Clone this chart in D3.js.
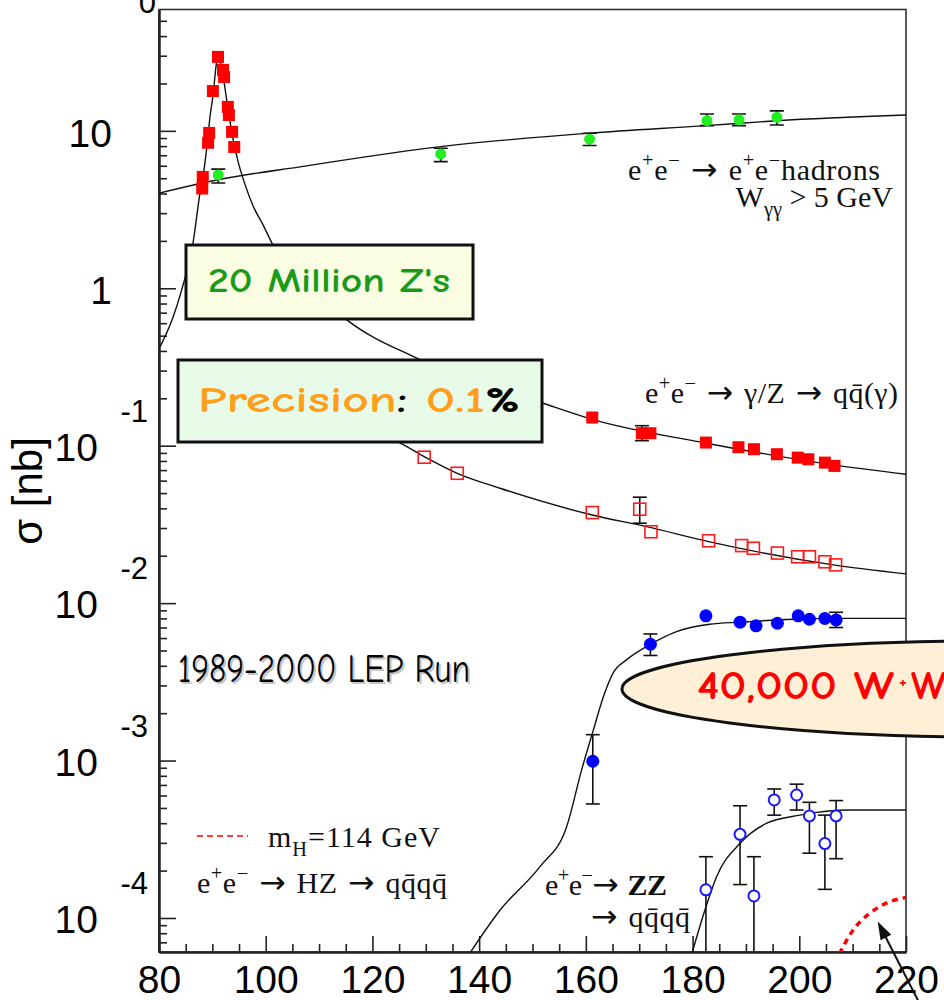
<!DOCTYPE html>
<html>
<head>
<meta charset="utf-8">
<script src="https://cdn.jsdelivr.net/npm/d3@7"></script>
<style>
body { margin: 0; background: #fff; }
svg { display: block; }
</style>
</head>
<body>
<svg id="chart" width="944" height="1000"></svg>
<script>
// cross sections in nb, energies in GeV

// e+e- -> e+e- hadrons (green)
var hadE = [91.1, 132.8, 160.7, 182.7, 188.7, 195.8];
var hadS = [5.25, 7.14, 8.85, 11.6, 11.75, 12.2];
var hadHi = [5.71, 7.76, 9.66, 12.8, 12.8, 13.4];
var hadLo = [4.66, 6.38, 8.07, 10.8, 10.8, 10.9];
var hadCurve = [[80, 4.02], [91.1, 4.89], [106.7, 5.93], [132.8, 7.94], [160.7, 9.67], [182.5, 10.8], [195.8, 11.6], [220, 12.6]];

// Z peak scan (red filled)
var zPeakE = [88.1, 88.2, 89.2, 89.4, 90.1, 91.06, 92.0, 92.2, 92.9, 93.1, 93.7, 94.1];
var zPeakS = [4.3, 5.1, 8.4, 9.7, 17.9, 29.5, 24.4, 22.0, 14.2, 12.6, 9.85, 7.9];

// e+e- -> qq(gamma), high energy, inclusive (filled) and high s' (open)
var qqE = [161.2, 170.5, 172.1, 182.5, 188.6, 191.5, 195.8, 199.7, 201.7, 204.8, 206.6];
var qqS = [0.151, 0.120, 0.120, 0.1047, 0.0978, 0.095, 0.0883, 0.084, 0.082, 0.0781, 0.0744];
var qqHi = [0.151, 0.134, 0.120, 0.1047, 0.0978, 0.095, 0.0883, 0.084, 0.082, 0.0781, 0.0744];
var qqLo = [0.151, 0.1076, 0.120, 0.1047, 0.0978, 0.095, 0.0883, 0.084, 0.082, 0.0781, 0.0744];
var zCurve = [[80, 0.412], [82.68, 0.661], [84.25, 0.977], [86.32, 1.89], [87.68, 4.02], [88.43, 5.65], [89.05, 8.36],
  [89.56, 12.3], [90.18, 17.4], [90.68, 25.6], [91.11, 30.4], [91.81, 24.5], [92.93, 13.8], [93.87, 8.9], [94.86, 6.3],
  [96.12, 4.57], [97.67, 3.31], [99.55, 2.51], [101.12, 1.95], [115.2, 0.63], [128.3, 0.36], [152, 0.186], [161.2, 0.147],
  [182.6, 0.1037], [206.4, 0.0755], [220, 0.0658]];

var qqOpenE = [129.7, 135.9, 161.2, 170.1, 172.2, 183.0, 189.2, 191.4, 195.9, 199.7, 201.9, 204.8, 206.8];
var qqOpenS = [0.0845, 0.0668, 0.0376, 0.0395, 0.0284, 0.0249, 0.0232, 0.0223, 0.0208, 0.0197, 0.0197, 0.0183, 0.0175];
var qqOpenHi = [0.0845, 0.0668, 0.0376, 0.0471, 0.0284, 0.0249, 0.0232, 0.0223, 0.0208, 0.0197, 0.0197, 0.0183, 0.0175];
var qqOpenLo = [0.0845, 0.0668, 0.0376, 0.0322, 0.0284, 0.0249, 0.0232, 0.0223, 0.0208, 0.0197, 0.0197, 0.0183, 0.0175];
var qqOpenCurve = [[121, 0.123], [123.9, 0.109], [125.2, 0.104], [129.7, 0.0853], [135.9, 0.0668], [143.9, 0.0537],
  [161.2, 0.0363], [171.4, 0.0306], [183, 0.0246], [206.4, 0.0175], [220, 0.01535]];

// W+W- (blue filled)
var wwE = [161.3, 172.1, 182.5, 188.9, 191.9, 195.9, 199.8, 201.9, 204.8, 206.9];
var wwS = [0.00099, 0.00548, 0.0083, 0.00757, 0.00717, 0.00745, 0.0083, 0.0079, 0.0080, 0.00782];
var wwHi = [0.00146, 0.00637, 0.0083, 0.00757, 0.00717, 0.00745, 0.0083, 0.0079, 0.0080, 0.00875];
var wwLo = [0.00053, 0.00465, 0.0083, 0.00757, 0.00717, 0.00745, 0.0083, 0.0079, 0.0080, 0.0070];
var wwCurve = [[138.0, 5.8e-5], [143.9, 0.000112], [151.4, 0.000212], [156.4, 0.00038], [159.2, 0.00087], [161.4, 0.00156],
  [163.3, 0.00255], [165.1, 0.00359], [167.6, 0.00436], [172.1, 0.00548], [177, 0.0066], [183.2, 0.00734],
  [188.9, 0.00757], [198.9, 0.0079], [207.9, 0.0080], [220, 0.0080]];

// ZZ -> qqqq (blue open)
var zzE = [182.5, 188.9, 191.5, 195.3, 199.5, 201.9, 204.8, 206.9];
var zzS = [0.000151, 0.00034, 0.000138, 0.000562, 0.000604, 0.000445, 0.000297, 0.000445];
var zzHi = [0.000245, 0.000516, 0.000245, 0.00066, 0.000708, 0.000543, 0.00045, 0.000557];
var zzLo = [0.00003, 0.000163, 0.00003, 0.00045, 0.000485, 0.000258, 0.000152, 0.000238];
var zzCurve = [[179.6, 5.5e-5], [182.3, 0.000112], [184.5, 0.000183], [188.9, 0.000298], [193.9, 0.0004],
  [200.1, 0.00045], [209.5, 0.000485], [220, 0.000485]];

// HZ, mH = 114 GeV (red dashed)
var higgsCurve = [[207.5, 5.9e-5], [210.1, 8.4e-5], [213.2, 0.000107], [217, 0.000127], [220, 0.000135]];

// axes
var xMajor = [80, 100, 120, 140, 160, 180, 200, 220];
var yMajor = [10, 1, 0.1, 0.01, 0.001, 0.0001];
var yBase = ["10", "1", "10", "10", "10", "10"];
var yExp = ["", "", "-1", "-2", "-3", "-4"];

var svg = d3.select("#chart");
var x = d3.scaleLinear().domain([80, 220]).range([159, 906]);
var y = d3.scaleLog().domain([6.08e-5, 59]).range([952, 9.5]);

svg.append("clipPath").attr("id", "plotclip").append("rect")
  .attr("x", 159).attr("y", 9.5).attr("width", 747).attr("height", 942.5);

// frame
svg.append("rect").attr("x", 159).attr("y", 9.5).attr("width", 747).attr("height", 942.5)
  .attr("fill", "none").attr("stroke", "#333").attr("stroke-width", 1.6);

// y ticks
var yMinor = [];
for (var d = -5; d <= 1; d++) {
  for (var k = 2; k <= 9; k++) {
    var v = k * Math.pow(10, d);
    if (v > 6.08e-5 && v < 59) yMinor.push(v);
  }
}
var axisStyle = function(g) {
  g.selectAll("line").attr("stroke", "#222").attr("stroke-width", 1.6);
  g.select(".domain").attr("stroke", "#222").attr("stroke-width", 2);
};
svg.append("g").attr("transform", "translate(159,0)")
  .call(d3.axisLeft(y).tickValues(yMinor).tickSize(-8).tickSizeOuter(0).tickFormat(""))
  .call(axisStyle);
svg.append("g").attr("transform", "translate(159,0)")
  .call(d3.axisLeft(y).tickValues(yMajor).tickSize(-17).tickSizeOuter(0).tickFormat(""))
  .call(axisStyle);

// y labels, ROOT style: 10 with the exponent up and to the right
var yLab = svg.append("g").attr("font-family", "Liberation Sans, Arial, sans-serif").attr("fill", "#000");
yMajor.forEach(function(v, i) {
  var py = y(v);
  if (yExp[i] === "") {
    yLab.append("text").attr("x", 112).attr("y", py + 16).attr("text-anchor", "end")
      .attr("font-size", 39).text(yBase[i]);
  } else {
    yLab.append("text").attr("x", 98).attr("y", py + 15).attr("text-anchor", "end")
      .attr("font-size", 39).text(yBase[i]);
    yLab.append("text").attr("x", 148).attr("y", py - 24).attr("text-anchor", "end")
      .attr("font-size", 31).text(yExp[i]);
  }
});
// label cut off at the very top
yLab.append("text").attr("x", 156).attr("y", 13).attr("text-anchor", "end").attr("font-size", 31).text("0");

svg.append("text").attr("transform", "translate(42,491) rotate(-90)")
  .attr("text-anchor", "middle").attr("font-family", "Liberation Sans, Arial, sans-serif")
  .attr("font-size", 42).text("σ [nb]");

// x ticks
var xMinor = d3.range(85, 220, 5).filter(function(v) { return v % 20 !== 0; });
svg.append("g").attr("transform", "translate(0,952)")
  .call(d3.axisBottom(x).tickValues(xMinor).tickSize(-8).tickSizeOuter(0).tickFormat(""))
  .call(axisStyle);
var xAx = svg.append("g").attr("transform", "translate(0,952)")
  .call(d3.axisBottom(x).tickValues(xMajor).tickSize(-16).tickSizeOuter(0).tickPadding(13).tickFormat(d3.format("d")))
  .call(axisStyle);
xAx.selectAll("text").attr("font-family", "Liberation Sans, Arial, sans-serif").attr("font-size", 39).attr("fill", "#000");

// curves
var plot = svg.append("g").attr("clip-path", "url(#plotclip)");
var line = d3.line().x(function(d) { return x(d[0]); }).y(function(d) { return y(d[1]); }).curve(d3.curveMonotoneX);
[hadCurve, zCurve, qqOpenCurve, wwCurve, zzCurve].forEach(function(c) {
  plot.append("path").attr("d", line(c)).attr("fill", "none").attr("stroke", "#111").attr("stroke-width", 1.4);
});
plot.append("path").attr("d", line(higgsCurve)).attr("fill", "none").attr("stroke", "#ff0000")
  .attr("stroke-width", 3.5).attr("stroke-dasharray", "6,5");

// error bars
function errorBars(E, hi, lo) {
  E.forEach(function(e, i) {
    if (hi[i] === lo[i]) return;
    var px = x(e), top = y(hi[i]), bot = y(lo[i]);
    plot.append("line").attr("x1", px).attr("x2", px).attr("y1", top).attr("y2", bot)
      .attr("stroke", "#111").attr("stroke-width", 1.6);
    plot.append("line").attr("x1", px - 7).attr("x2", px + 7).attr("y1", top).attr("y2", top)
      .attr("stroke", "#111").attr("stroke-width", 1.6);
    plot.append("line").attr("x1", px - 7).attr("x2", px + 7).attr("y1", bot).attr("y2", bot)
      .attr("stroke", "#111").attr("stroke-width", 1.6);
  });
}
errorBars(hadE, hadHi, hadLo);
errorBars(qqE, qqHi, qqLo);
errorBars(qqOpenE, qqOpenHi, qqOpenLo);
errorBars(wwE, wwHi, wwLo);
errorBars(zzE, zzHi, zzLo);

// markers
function squares(E, S, filled) {
  E.forEach(function(e, i) {
    plot.append("rect").attr("x", x(e) - 6).attr("y", y(S[i]) - 6).attr("width", 12).attr("height", 12)
      .attr("fill", filled ? "#ff0000" : "none").attr("stroke", filled ? "none" : "#ff1a1a").attr("stroke-width", 1.6);
  });
}
function circles(E, S, r, color, filled) {
  E.forEach(function(e, i) {
    plot.append("circle").attr("cx", x(e)).attr("cy", y(S[i])).attr("r", r)
      .attr("fill", filled ? color : "#fff").attr("stroke", filled ? "none" : color).attr("stroke-width", 2);
  });
}
squares(zPeakE, zPeakS, true);
squares(qqE, qqS, true);
squares(qqOpenE, qqOpenS, false);
circles(hadE, hadS, 5.5, "#22ee22", true);
circles(wwE, wwS, 6.5, "#0000ff", true);
circles(zzE, zzS, 5.5, "#1a1aff", false);

// process labels (Times style, long TeX arrows)
var serif = "Liberation Serif, Times New Roman, serif";
function procLabel(px, py, anchor, size, width, parts) {
  var t = svg.append("text").attr("x", px).attr("y", py).attr("font-family", serif)
    .attr("font-size", size).attr("text-anchor", anchor).attr("fill", "#111");
  if (width) t.attr("textLength", width).attr("lengthAdjust", "spacing");
  parts.forEach(function(p) {
    var s = t.append("tspan").text(p[0]);
    if (p[1] === "sup") s.attr("font-size", size * 0.68).attr("dy", -size * 0.42);
    if (p[1] === "sub") s.attr("font-size", size * 0.68).attr("dy", size * 0.3);
    if (p[1] === "back") s.attr("dy", size * 0.42);
    if (p[1] === "up") s.attr("dy", -size * 0.3);
    if (p[1] === "arrow") s.attr("font-family", "DejaVu Sans, sans-serif").attr("font-size", size * 1.05);
    if (p[1] === "arrowback") s.attr("font-family", "DejaVu Sans, sans-serif").attr("font-size", size * 1.05).attr("dy", size * 0.42);
    if (p[1] === "bold") s.attr("font-weight", "bold");
  });
}
procLabel(628, 180, "start", 30, 252, [["e"], ["+", "sup"], ["e", "back"], ["−", "sup"], [" → ", "arrowback"], ["e"], ["+", "sup"], ["e", "back"], ["−", "sup"], ["hadrons", "back"]]);
procLabel(893, 207, "end", 30, 0, [["W"], ["γγ", "sub"], [" > 5 GeV", "up"]]);
procLabel(645, 403, "start", 30, 253, [["e"], ["+", "sup"], ["e", "back"], ["−", "sup"], [" → ", "arrowback"], ["γ/Z"], [" → ", "arrow"], ["qq̄(γ)"]]);
procLabel(197, 893, "start", 30, 250, [["e"], ["+", "sup"], ["e", "back"], ["−", "sup"], [" → ", "arrowback"], ["HZ"], [" → ", "arrow"], ["qq̄qq̄"]]);
procLabel(545, 895, "start", 30, 122, [["e"], ["+", "sup"], ["e", "back"], ["−", "sup"], ["→ ", "arrowback"], ["ZZ", "bold"]]);
procLabel(591, 927, "start", 30, 99, [["→ ", "arrow"], ["qq̄qq̄"]]);
procLabel(268, 847, "start", 30, 172, [["m"], ["H", "sub"], ["=114 GeV", "up"]]);
svg.append("line").attr("x1", 197).attr("x2", 248).attr("y1", 836).attr("y2", 836)
  .attr("stroke", "#ff0000").attr("stroke-width", 1.6).attr("stroke-dasharray", "6,4");

// annotation boxes
var comic = "Comic Sans MS, Comic Neue, Lato, sans-serif";
svg.append("rect").attr("x", 186).attr("y", 245).attr("width", 287).attr("height", 74)
  .attr("fill", "#fafde2").attr("stroke", "#111").attr("stroke-width", 3);
svg.append("text").attr("x", 208).attr("y", 292).attr("font-family", comic).attr("font-weight", "bold")
  .attr("font-size", 35).attr("fill", "#1a9a1a").attr("textLength", 242).attr("lengthAdjust", "spacingAndGlyphs")
  .text("20 Million Z's");

svg.append("rect").attr("x", 178).attr("y", 360).attr("width", 364).attr("height", 82)
  .attr("fill", "#e8fbe8").attr("stroke", "#111").attr("stroke-width", 3);
var prec = svg.append("text").attr("x", 198).attr("y", 412).attr("font-family", comic).attr("font-weight", "bold")
  .attr("font-size", 37).attr("textLength", 322).attr("lengthAdjust", "spacingAndGlyphs");
prec.append("tspan").attr("fill", "#ff9e1b").text("Precision");
prec.append("tspan").attr("fill", "#000").text(": ");
prec.append("tspan").attr("fill", "#ff9e1b").text("0.1");
prec.append("tspan").attr("fill", "#000").text("%");

svg.append("text").attr("x", 180).attr("y", 684).attr("font-family", comic).attr("font-size", 41)
  .attr("fill", "#c4c4c4").attr("textLength", 292).attr("lengthAdjust", "spacingAndGlyphs").text("1989-2000 LEP Run");
svg.append("text").attr("x", 178).attr("y", 682).attr("font-family", comic).attr("font-size", 41)
  .attr("fill", "#000").attr("textLength", 292).attr("lengthAdjust", "spacingAndGlyphs").text("1989-2000 LEP Run");

svg.append("ellipse").attr("cx", 990).attr("cy", 689).attr("rx", 368).attr("ry", 48)
  .attr("fill", "#fdf0d7").attr("stroke", "#111").attr("stroke-width", 3);
var wwText = svg.append("g").attr("font-family", comic).attr("font-weight", "bold").attr("fill", "#ff0000");
wwText.append("text").attr("x", 697).attr("y", 699).attr("font-size", 41)
  .attr("textLength", 197).attr("lengthAdjust", "spacingAndGlyphs").text("40,000 W");
wwText.append("text").attr("x", 903).attr("y", 687).attr("font-size", 18).attr("text-anchor", "middle").text("+");
wwText.append("text").attr("x", 911).attr("y", 699).attr("font-size", 41).text("W");
wwText.append("text").attr("x", 950).attr("y", 687).attr("font-size", 18).text("−");

// arrow pointing at the Higgs curve
var tip = [x(214.7), y(9.5e-5)], tail = [x(222.6), y(2.84e-5)];
var dx = tip[0] - tail[0], dy = tip[1] - tail[1], len = Math.sqrt(dx * dx + dy * dy);
var ux = dx / len, uy = dy / len;
svg.append("line").attr("x1", tail[0]).attr("y1", tail[1]).attr("x2", tip[0] - ux * 12).attr("y2", tip[1] - uy * 12)
  .attr("stroke", "#111").attr("stroke-width", 2);
svg.append("polygon").attr("fill", "#111").attr("points", [
  tip,
  [tip[0] - ux * 18 - uy * 6, tip[1] - uy * 18 + ux * 6],
  [tip[0] - ux * 18 + uy * 6, tip[1] - uy * 18 - ux * 6]
].map(function(p) { return p.join(","); }).join(" "));
</script>
</body>
</html>
